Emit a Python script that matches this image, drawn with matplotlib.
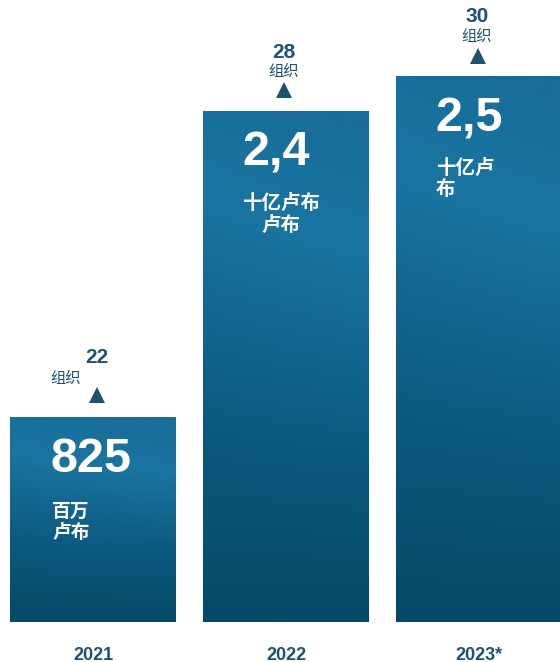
import numpy as np
import matplotlib.pyplot as plt
from matplotlib.colors import LinearSegmentedColormap

plt.rcParams['font.family'] = ['Liberation Sans', 'Noto Sans CJK SC', 'DejaVu Sans']

years = ['2021', '2022', '2023*']
values = [825, 2400, 2500]          # million rubles (as printed)
bar_heights = [0.375, 0.936, 1.0]   # bars in the original are not to scale; heights
value_labels = ['825', '2,4', '2,5']
unit_labels = ['百万\n卢布', '十亿卢布\n卢布', '十亿卢\n布']
orgs = ['22', '28', '30']
org_word = '组织'

dark = '#1b5370'
cmap = LinearSegmentedColormap.from_list(
    'bar', [(0.0, '#186d99'), (0.22, '#1a75a2'), (0.6, '#0c5a80'), (1.0, '#034864')])

fig = plt.figure(figsize=(5.6, 6.62), dpi=100)
ax = fig.add_axes([0, 1 - 622 / 662, 1, 622 / 662])
ymax = 622 / 546
ax.axis('off')

width = 166 / 193
gy, gx = np.mgrid[0:1:200j, 0:1:60j]
grad = np.clip(gy + 0.12 * (1 - gx) * (1 - gy) - 0.05, 0, 1)

for i, h in enumerate(bar_heights):
    bar = ax.bar(i, h, width=width, color='none', edgecolor='none')[0]
    im = ax.imshow(grad, cmap=cmap, vmin=0, vmax=1, aspect='auto',
                   extent=(i - width / 2, i + width / 2, 0, h), origin='upper', zorder=1)
    im.set_clip_path(bar)

ax.set_xlim(-93 / 193, 467 / 193)
ax.set_ylim(0, ymax)

# px -> data helpers
def px_y(py):
    return (622 - py) / 546

def px_x(px):
    return (px - 93) / 193

# organisation counts + triangles
ax.text(px_x(97), px_y(358), orgs[0], ha='center', va='center', fontsize=15,
        fontweight='bold', color=dark)
ax.text(px_x(66), px_y(379), org_word, ha='center', va='center', fontsize=11, color=dark)
ax.plot(px_x(97), px_y(395), marker='^', markersize=12, color=dark, markeredgewidth=0)

ax.text(px_x(284), px_y(52), orgs[1], ha='center', va='center', fontsize=15,
        fontweight='bold', color=dark)
ax.text(px_x(284), px_y(72), org_word, ha='center', va='center', fontsize=11, color=dark)
ax.plot(px_x(284), px_y(90), marker='^', markersize=12, color=dark, markeredgewidth=0)

ax.text(px_x(477), px_y(17), orgs[2], ha='center', va='center', fontsize=15,
        fontweight='bold', color=dark)
ax.text(px_x(477), px_y(37), org_word, ha='center', va='center', fontsize=11, color=dark)
ax.plot(px_x(478), px_y(56), marker='^', markersize=12, color=dark, markeredgewidth=0)

# big values inside bars
ax.text(px_x(50), px_y(460), value_labels[0], ha='left', va='center', fontsize=35,
        fontweight='bold', color='white', zorder=3)
ax.text(px_x(52), px_y(523), unit_labels[0], ha='left', va='center', fontsize=13.5,
        fontweight='bold', color='white', linespacing=1.2, zorder=3)

ax.text(px_x(242), px_y(153), value_labels[1], ha='left', va='center', fontsize=35,
        fontweight='bold', color='white', zorder=3)
ax.text(px_x(281), px_y(214), unit_labels[1], ha='center', va='center', fontsize=14,
        fontweight='bold', color='white', linespacing=1.2, zorder=3)

ax.text(px_x(435), px_y(119), value_labels[2], ha='left', va='center', fontsize=35,
        fontweight='bold', color='white', zorder=3)
ax.text(px_x(436), px_y(179), unit_labels[2], ha='left', va='center', fontsize=14,
        fontweight='bold', color='white', linespacing=1.2, zorder=3)

# year labels
for i, y in enumerate(years):
    ax.text(i, px_y(655), y, ha='center', va='center', fontsize=13,
            fontweight='bold', color=dark, clip_on=False)

fig.savefig('out.png', dpi=100)
